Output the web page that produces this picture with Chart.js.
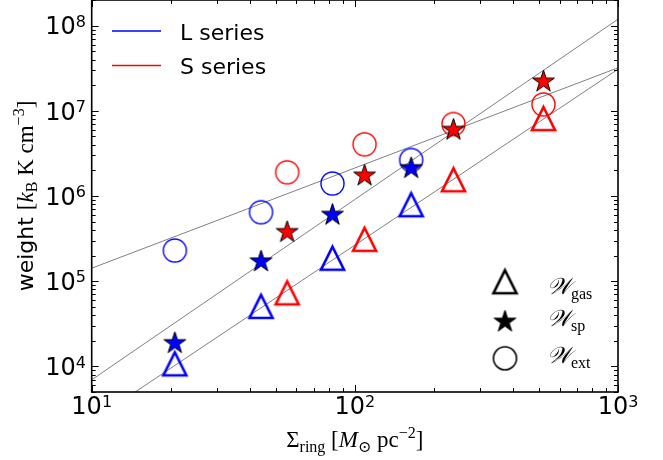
<!DOCTYPE html>
<html><head><meta charset="utf-8">
<script src="https://cdn.jsdelivr.net/npm/chart.js@4.4.0/dist/chart.umd.min.js"></script>
<style>html,body{margin:0;padding:0;background:#fff;}#wrap{width:663px;height:460px;}</style>
</head><body><div id="wrap"><canvas id="c" width="663" height="460"></canvas></div>
<script>
// ---- data ----
const xL   = [20.7, 44.0, 82.2, 163.7];
const gasL = [1.07e4, 5.06e4, 1.86e5, 7.9e5];
const spL  = [1.87e4, 1.70e5, 6.0e5, 2.12e6];
const extL = [2.29e5, 6.45e5, 1.40e6, 2.65e6];
const xS   = [55.3, 108.9, 237, 521];
const gasS = [7.29e4, 3.1e5, 1.55e6, 8.1e6];
const spS  = [3.76e5, 1.73e6, 5.97e6, 2.2e7];
const extS = [1.90e6, 4.05e6, 7.0e6, 1.19e7];
const fitX   = [10, 1000];
const fitExt = [1.42e5, 3.2e7];
const fitSp  = [6.95e3, 1.19e8];
const fitGas = [2.28e3, 3.08e7];
const xTickVals = [10, 100, 1000];
const xTickExp  = ['1', '2', '3'];
const yTickVals = [1e4, 1e5, 1e6, 1e7, 1e8];
const yTickExp  = ['4', '5', '6', '7', '8'];
const seriesNames = ['L series', 'S series'];
const markerNames = [['𝒲', 'gas'], ['𝒲', 'sp'], ['𝒲', 'ext']];

const BLUE = '#0000ff', RED = '#ff0000';
const SERIF = '"Liberation Serif", "DejaVu Serif", serif';
const SANS = '"DejaVu Sans", sans-serif';

function makeMarker(shape, fill, stroke, lw) {
  const h = 11.5, pad = Math.ceil(lw * 2) + 2;
  const size = Math.ceil(2 * h + 2 * pad);
  const c = document.createElement('canvas'); c.width = size; c.height = size;
  const g = c.getContext('2d'); g.translate(size / 2, size / 2);
  g.beginPath();
  if (shape === 'tri') { g.moveTo(0, -h); g.lineTo(h, h); g.lineTo(-h, h); g.closePath(); }
  else if (shape === 'star') {
    for (let k = 0; k < 10; k++) {
      const r = k % 2 === 0 ? h : h * 0.381966;
      const a = -Math.PI / 2 + k * Math.PI / 5;
      const px = r * Math.cos(a), py = r * Math.sin(a);
      if (k) g.lineTo(px, py); else g.moveTo(px, py);
    }
    g.closePath();
  } else { g.arc(0, 0, h, 0, 2 * Math.PI); }
  if (fill) { g.fillStyle = fill; g.fill(); }
  g.lineWidth = lw; g.strokeStyle = stroke; g.lineJoin = 'miter'; g.stroke();
  return c;
}
const M = {
  triB: makeMarker('tri', null, BLUE, 2.6), triR: makeMarker('tri', null, RED, 2.6),
  starB: makeMarker('star', BLUE, '#000', 1), starR: makeMarker('star', RED, '#000', 1),
  cirB: makeMarker('cir', null, BLUE, 1.4), cirR: makeMarker('cir', null, RED, 1.4),
  triK: makeMarker('tri', null, '#000', 2.6), starK: makeMarker('star', '#000', '#000', 1),
  cirK: makeMarker('cir', null, '#000', 1.6)
};
const pts = (xs, ys) => xs.map((x, i) => ({ x: x, y: ys[i] }));
function mds(label, xs, ys, img) {
  return { type: 'scatter', label, data: pts(xs, ys), pointStyle: img, pointRadius: 12, pointHoverRadius: 12, showLine: false };
}
function fds(label, ys) {
  return { type: 'line', label, data: pts(fitX, ys), borderColor: '#808080', borderWidth: 1, pointRadius: 0, fill: false, tension: 0 };
}

function drawRich(ctx, segs, x, y, align) {
  let w = 0;
  for (const s of segs) { ctx.font = s.f; s.w = ctx.measureText(s.t).width; w += s.w; }
  let cx = align === 'center' ? x - w / 2 : align === 'right' ? x - w : x;
  ctx.textAlign = 'left'; ctx.textBaseline = 'alphabetic';
  for (const s of segs) { ctx.font = s.f; ctx.fillText(s.t, cx, y + (s.dy || 0)); cx += s.w; }
}

const deco = {
  id: 'deco',
  afterDraw(chart) {
    const ctx = chart.ctx, a = chart.chartArea, xs = chart.scales.x, ys = chart.scales.y;
    ctx.save();
    ctx.globalAlpha = 1; ctx.setLineDash([]);
    ctx.fillStyle = '#000'; ctx.strokeStyle = '#000';
    // ticks
    ctx.lineWidth = 1;
    ctx.beginPath();
    for (let d = 1; d <= 3; d++) for (let m = 1; m <= 9; m++) {
      const v = m * Math.pow(10, d); if (v < 10 || v > 1000) continue;
      const px = Math.round(xs.getPixelForValue(v)) + 0.5, L = m === 1 ? 7 : 4;
      ctx.moveTo(px, a.bottom); ctx.lineTo(px, a.bottom - L);
      ctx.moveTo(px, a.top); ctx.lineTo(px, a.top + L);
    }
    for (let d = 3; d <= 8; d++) for (let m = 1; m <= 9; m++) {
      const v = m * Math.pow(10, d); if (v < 5e3 || v > 2e8) continue;
      const py = Math.round(ys.getPixelForValue(v)) + 0.5, L = m === 1 ? 7 : 4;
      ctx.moveTo(a.left, py); ctx.lineTo(a.left + L, py);
      ctx.moveTo(a.right, py); ctx.lineTo(a.right - L, py);
    }
    ctx.stroke();
    // spines
    ctx.lineWidth = 1.6;
    ctx.strokeRect(a.left, a.top, a.right - a.left, a.bottom - a.top);
    // tick labels
    const fMain = '24px ' + SANS, fSup = '16px ' + SANS;
    xTickVals.forEach((v, i) => {
      drawRich(ctx, [{ t: '10', f: fMain }, { t: xTickExp[i], f: fSup, dy: -7.5 }], xs.getPixelForValue(v), 414, 'center');
    });
    yTickVals.forEach((v, i) => {
      drawRich(ctx, [{ t: '10', f: fMain }, { t: yTickExp[i], f: fSup, dy: -7.5 }], 86, ys.getPixelForValue(v) + 8.7, 'right');
    });
    // x label
    const fS = '23px ' + SERIF, fSI = 'italic 23px ' + SERIF, fSs = '16px ' + SERIF;
    drawRich(ctx, [
      { t: 'Σ', f: fS }, { t: 'ring', f: fSs, dy: 5 }, { t: ' [', f: fS }, { t: 'M', f: fSI },
      { t: '⊙', f: fSs, dy: 5 }, { t: ' pc', f: fS }, { t: '−2', f: fSs, dy: -9 }, { t: ']', f: fS }
    ], (a.left + a.right) / 2, 447, 'center');
    // y label
    ctx.save();
    ctx.translate(33, (a.top + a.bottom) / 2);
    ctx.rotate(-Math.PI / 2);
    drawRich(ctx, [
      { t: 'weight ', f: '22px ' + SANS }, { t: '[', f: fS }, { t: 'k', f: fSI }, { t: 'B', f: fSs, dy: 4 },
      { t: ' K', f: fS }, { t: ' cm', f: fS }, { t: '−3', f: fSs, dy: -9 }, { t: ']', f: fS }
    ], 0, 0, 'center');
    ctx.restore();
    // series legend (upper left)
    const legCols = [BLUE, RED], legY = [31, 65.5];
    for (let i = 0; i < 2; i++) {
      ctx.lineWidth = 1.3;
      ctx.strokeStyle = legCols[i];
      ctx.beginPath(); ctx.moveTo(112, legY[i]); ctx.lineTo(161, legY[i]); ctx.stroke();
      ctx.fillStyle = '#000'; ctx.font = '22px ' + SANS; ctx.textAlign = 'left'; ctx.textBaseline = 'alphabetic';
      ctx.fillText(seriesNames[i], 180, legY[i] + 8.5);
    }
    // marker legend (lower right)
    const mk = [M.triK, M.starK, M.cirK], my = [281.7, 321.7, 358.3], ty = [294, 326, 363];
    mk.forEach((img, i) => {
      ctx.drawImage(img, 505 - img.width / 2, my[i] - img.height / 2);
      drawRich(ctx, [{ t: markerNames[i][0], f: fSI }, { t: markerNames[i][1], f: fSs, dy: 5 }], 547, ty[i], 'left');
    });
    ctx.restore();
  }
};

new Chart(document.getElementById('c'), {
  type: 'scatter',
  data: {
    datasets: [
      mds('L sp', xL, spL, M.starB), mds('S sp', xS, spS, M.starR),
      mds('L gas', xL, gasL, M.triB), mds('S gas', xS, gasS, M.triR),
      mds('L ext', xL, extL, M.cirB), mds('S ext', xS, extS, M.cirR),
      fds('fit ext', fitExt), fds('fit sp', fitSp), fds('fit gas', fitGas)
    ]
  },
  options: {
    responsive: false, animation: false, devicePixelRatio: 1,
    layout: { autoPadding: false, padding: { left: 91.7, right: 45, top: 0, bottom: 68 } },
    plugins: { legend: { display: false }, tooltip: { enabled: false } },
    events: [],
    scales: {
      x: { type: 'logarithmic', min: 10, max: 1000, display: false },
      y: { type: 'logarithmic', min: 5e3, max: 2e8, display: false }
    }
  },
  plugins: [deco]
});
</script></body></html>
